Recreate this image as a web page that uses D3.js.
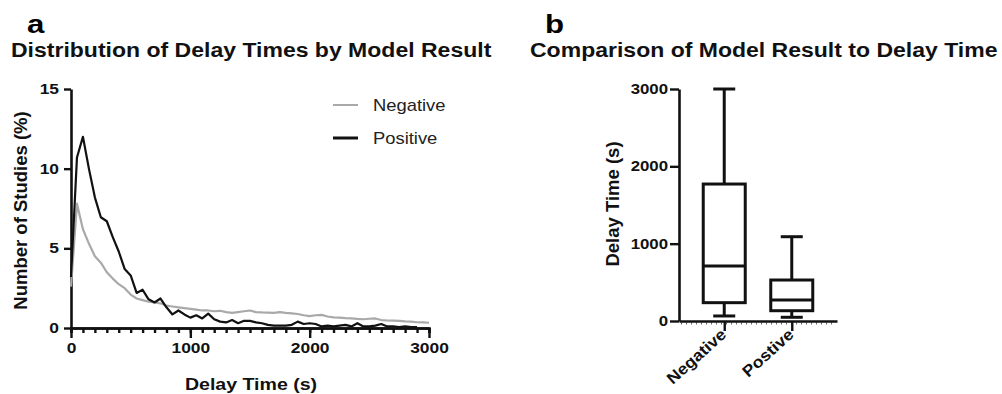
<!DOCTYPE html>
<html>
<head>
<meta charset="utf-8">
<script src="https://cdn.jsdelivr.net/npm/d3@7"></script>
<style>
  body { margin: 0; background: #fff; }
  svg { display: block; font-family: "Liberation Sans", Arial, sans-serif; }
</style>
</head>
<body>
<div id="chart"></div>
<script>
// panel a: frequency distribution, 50 s bins
const binWidth = 50;
const negative = [2.6, 7.8, 6.2, 5.3, 4.5, 4.1, 3.5, 3.1, 2.75, 2.5,
  2.1, 1.85, 1.75, 1.65, 1.6, 1.55, 1.4, 1.35, 1.3, 1.25,
  1.2, 1.15, 1.1, 1.1, 1.05, 1.08, 1.0, 0.95, 1.0, 1.05,
  1.1, 1.0, 0.98, 0.97, 0.95, 1.0, 0.95, 0.92, 0.88, 0.8,
  0.75, 0.8, 0.82, 0.72, 0.67, 0.65, 0.62, 0.6, 0.57, 0.55,
  0.58, 0.6, 0.5, 0.47, 0.46, 0.45, 0.42, 0.4, 0.36, 0.35, 0.33];
const positive = [3.2, 10.7, 12.0, 10.0, 8.2, 6.95, 6.7, 5.7, 4.8, 3.7,
  3.3, 2.2, 2.4, 1.8, 1.6, 1.85, 1.3, 0.85, 1.1, 0.85,
  0.65, 0.8, 0.6, 0.9, 0.55, 0.4, 0.35, 0.5, 0.3, 0.45,
  0.45, 0.35, 0.3, 0.2, 0.15, 0.15, 0.15, 0.2, 0.4, 0.25,
  0.3, 0.25, 0.1, 0.15, 0.1, 0.15, 0.2, 0.1, 0.3, 0.1,
  0.1, 0.15, 0.25, 0.1, 0.1, 0.05, 0.1, 0.05, 0.05];
const xTicksA = [0, 1000, 2000, 3000];
const yTicksA = [0, 5, 10, 15];

// panel b: box plot summaries (s)
const groups = ["Negative", "Postive"];
const boxMin = [65, 48];
const boxQ1 = [237, 133];
const boxMedian = [711, 272];
const boxQ3 = [1771, 530];
const boxMax = [3000, 1090];
const yTicksB = [0, 1000, 2000, 3000];

const width = 1002, height = 394;
const stretchX = 1.2;   // the reference text is drawn wide
const plain = d3.format('d');

const svg = d3.select('#chart').append('svg')
  .attr('width', width)
  .attr('height', height);

function widen(sel, k) {
  sel.each(function () {
    const w = this.getComputedTextLength();
    d3.select(this).attr('textLength', w * k).attr('lengthAdjust', 'spacingAndGlyphs');
  });
}

function styleAxis(g, fontSize) {
  g.select('.domain').attr('stroke-width', 2.6).attr('stroke', '#111');
  g.selectAll('.tick line').attr('stroke-width', 2.4).attr('stroke', '#111');
  g.selectAll('.tick text')
    .attr('font-size', fontSize)
    .attr('font-weight', 'bold')
    .attr('fill', '#111')
    .attr('font-family', '"Liberation Sans", Arial, sans-serif')
    .call(widen, stretchX);
}

// ---------- titles ----------
svg.append('text').attr('x', 27).attr('y', 33).attr('font-size', 26).attr('font-weight', 'bold')
  .text('a').call(widen, stretchX);
svg.append('text').attr('x', 545).attr('y', 33).attr('font-size', 26).attr('font-weight', 'bold')
  .text('b').call(widen, stretchX);
svg.append('text').attr('x', 11).attr('y', 56.5).attr('font-size', 19.5).attr('font-weight', 'bold')
  .attr('fill', '#111').text('Distribution of Delay Times by Model Result').call(widen, 1.18);
svg.append('text').attr('x', 530).attr('y', 56.5).attr('font-size', 19.5).attr('font-weight', 'bold')
  .attr('fill', '#111').text('Comparison of Model Result to Delay Time').call(widen, 1.18);

// ---------- panel a ----------
const xA = d3.scaleLinear().domain([0, 3000]).range([71, 429]);
const yA = d3.scaleLinear().domain([0, 15]).range([328, 89]);

const gA = svg.append('g');

gA.append('g')
  .attr('transform', `translate(0,${yA(0)})`)
  .call(d3.axisBottom(xA).tickValues(d3.range(0, 3001, 100)).tickSize(5).tickFormat(''))
  .call(g => styleAxis(g, 14));

gA.append('g')
  .attr('transform', `translate(0,${yA(0)})`)
  .call(d3.axisBottom(xA).tickValues(xTicksA).tickFormat(plain).tickSize(10).tickSizeOuter(0).tickPadding(5))
  .call(g => styleAxis(g, 14.5));

gA.append('g')
  .attr('transform', `translate(${xA(0)},0)`)
  .call(d3.axisLeft(yA).tickValues(yTicksA).tickFormat(plain).tickSize(7).tickSizeOuter(0).tickPadding(5))
  .call(g => styleAxis(g, 14.5));

gA.append('text')
  .attr('transform', `translate(27,${(yA(0) + yA(15)) / 2 + 2}) rotate(-90)`)
  .attr('text-anchor', 'middle')
  .attr('font-size', 18.5).attr('font-weight', 'bold').attr('fill', '#111')
  .text('Number of Studies (%)');

gA.append('text')
  .attr('x', 251).attr('y', 390)
  .attr('text-anchor', 'middle')
  .attr('font-size', 17).attr('font-weight', 'bold').attr('fill', '#111')
  .text('Delay Time (s)').call(widen, 1.15);

const line = d3.line()
  .x((d, i) => xA(i * binWidth))
  .y(d => yA(d));

gA.append('path').datum(negative)
  .attr('fill', 'none').attr('stroke', '#a9a9a9').attr('stroke-width', 2.2)
  .attr('stroke-linejoin', 'round')
  .attr('d', line);

gA.append('path').datum(positive)
  .attr('fill', 'none').attr('stroke', '#111').attr('stroke-width', 2.2)
  .attr('stroke-linejoin', 'round')
  .attr('d', line);

// legend
const legend = gA.append('g');
[['Negative', '#a9a9a9', 2, 105], ['Positive', '#111', 3, 138]].forEach(([name, col, sw, y]) => {
  legend.append('line').attr('x1', 333).attr('x2', 358).attr('y1', y).attr('y2', y)
    .attr('stroke', col).attr('stroke-width', sw);
  legend.append('text').attr('x', 373).attr('y', y + 6)
    .attr('font-size', 17).attr('fill', '#222').text(name).call(widen, 1.08);
});

// ---------- panel b ----------
const xB = d3.scalePoint().domain(groups).range([679, 837]).padding(0.67);
const yB = d3.scaleLinear().domain([0, 3000]).range([321, 89]);

const gB = svg.append('g');

// faint minor marks under the baseline
gB.append('line')
  .attr('x1', 681).attr('x2', 836).attr('y1', yB(0) + 2.5).attr('y2', yB(0) + 2.5)
  .attr('stroke', '#666').attr('stroke-width', 2).attr('stroke-dasharray', '1,4');

gB.append('g')
  .attr('transform', `translate(${xB.range()[0]},0)`)
  .call(d3.axisLeft(yB).tickValues(yTicksB).tickFormat(plain).tickSize(9).tickSizeOuter(0).tickPadding(2))
  .call(g => styleAxis(g, 14));

gB.append('g')
  .attr('transform', `translate(0,${yB(0)})`)
  .call(d3.axisBottom(xB).tickSize(10).tickSizeOuter(0).tickFormat(''))
  .call(g => styleAxis(g, 14));

gB.selectAll('.catLabel')
  .data(groups)
  .join('text')
  .attr('class', 'catLabel')
  .attr('transform', d => `translate(${xB(d) + 3},${yB(0) + 15}) rotate(-42)`)
  .attr('text-anchor', 'end')
  .attr('font-size', 16).attr('font-weight', 'bold').attr('fill', '#111')
  .text(d => d)
  .call(widen, 1.1);

gB.append('text')
  .attr('transform', `translate(619,${(yB(0) + yB(3000)) / 2 - 1}) rotate(-90)`)
  .attr('text-anchor', 'middle')
  .attr('font-size', 18.5).attr('font-weight', 'bold').attr('fill', '#111')
  .text('Delay Time (s)');

const boxW = 42, capW = 22;
const boxes = gB.selectAll('.box')
  .data(groups.map((g, i) => ({ g, min: boxMin[i], q1: boxQ1[i], med: boxMedian[i], q3: boxQ3[i], max: boxMax[i] })))
  .join('g')
  .attr('class', 'box')
  .attr('stroke', '#111')
  .attr('stroke-width', 3)
  .attr('fill', 'none');

boxes.append('line')
  .attr('x1', d => xB(d.g)).attr('x2', d => xB(d.g))
  .attr('y1', d => yB(d.max)).attr('y2', d => yB(d.q3));
boxes.append('line')
  .attr('x1', d => xB(d.g)).attr('x2', d => xB(d.g))
  .attr('y1', d => yB(d.q1)).attr('y2', d => yB(d.min));
boxes.append('line')
  .attr('x1', d => xB(d.g) - capW / 2).attr('x2', d => xB(d.g) + capW / 2)
  .attr('y1', d => yB(d.max)).attr('y2', d => yB(d.max));
boxes.append('line')
  .attr('x1', d => xB(d.g) - capW / 2).attr('x2', d => xB(d.g) + capW / 2)
  .attr('y1', d => yB(d.min)).attr('y2', d => yB(d.min));
boxes.append('rect')
  .attr('x', d => xB(d.g) - boxW / 2).attr('width', boxW)
  .attr('y', d => yB(d.q3)).attr('height', d => yB(d.q1) - yB(d.q3));
boxes.append('line')
  .attr('x1', d => xB(d.g) - boxW / 2).attr('x2', d => xB(d.g) + boxW / 2)
  .attr('y1', d => yB(d.med)).attr('y2', d => yB(d.med));
</script>
</body>
</html>
